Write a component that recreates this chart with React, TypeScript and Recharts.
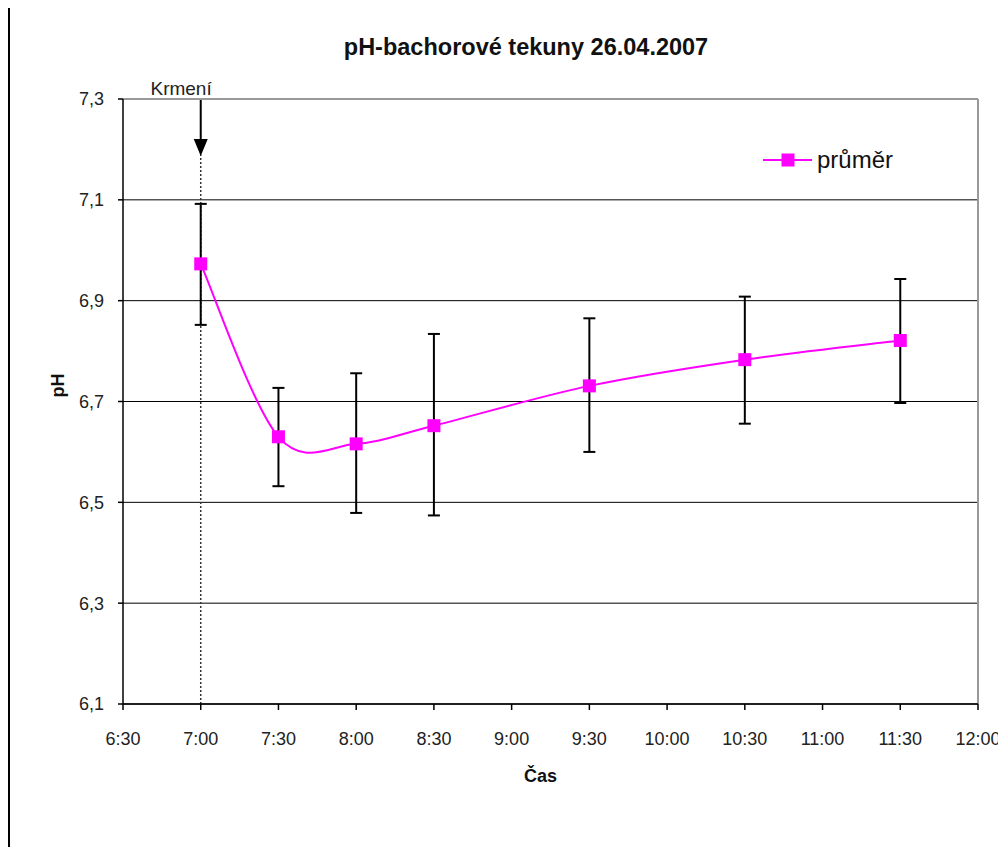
import React from 'react';
import {
  LineChart,
  Line,
  XAxis,
  YAxis,
  CartesianGrid,
  ErrorBar,
  ReferenceLine,
  ReferenceDot,
} from 'recharts';

// ---- data ----
const times = [7, 7.5, 8, 8.5, 9.5, 10.5, 11.5];
const meanPH = [6.973, 6.63, 6.616, 6.652, 6.731, 6.783, 6.821];
const errMinus = [0.121, 0.098, 0.137, 0.178, 0.131, 0.127, 0.124];
const errPlus = [0.119, 0.097, 0.14, 0.182, 0.134, 0.125, 0.122];

const xTicks = [6.5, 7, 7.5, 8, 8.5, 9, 9.5, 10, 10.5, 11, 11.5, 12];
const xTickLabels = ['6:30', '7:00', '7:30', '8:00', '8:30', '9:00', '9:30', '10:00', '10:30', '11:00', '11:30', '12:00'];
const yTicks = [6.1, 6.3, 6.5, 6.7, 6.9, 7.1, 7.3];
const yTickLabels = ['6,1', '6,3', '6,5', '6,7', '6,9', '7,1', '7,3'];

const feedingTime = 7;
const feedingLabel = 'Krmení';
const seriesName = 'průměr';
const title = 'pH-bachorové tekuny 26.04.2007';

const data = times.map((t, i) => ({
  t,
  ph: meanPH[i],
  err: [errMinus[i], errPlus[i]],
}));

const FONT = '"Liberation Sans", Arial, sans-serif';
const MAGENTA = '#FF00FF';

// Catmull-Rom style smoothing similar to Excel smoothed lines
const smoothCurve: any = (context: any) => {
  let pts: number[][] = [];
  return {
    areaStart() {},
    areaEnd() {},
    lineStart() {
      pts = [];
    },
    point(x: number, y: number) {
      pts.push([+x, +y]);
    },
    lineEnd() {
      if (!pts.length) return;
      context.moveTo(pts[0][0], pts[0][1]);
      for (let i = 0; i < pts.length - 1; i++) {
        const p0 = pts[i - 1] || pts[i];
        const p1 = pts[i];
        const p2 = pts[i + 1];
        const p3 = pts[i + 2] || p2;
        const c1x = p1[0] + (p2[0] - p0[0]) / 6;
        const c1y = p1[1] + (p2[1] - p0[1]) / 6;
        const c2x = p2[0] - (p3[0] - p1[0]) / 6;
        const c2y = p2[1] - (p3[1] - p1[1]) / 6;
        context.bezierCurveTo(c1x, c1y, c2x, c2y, p2[0], p2[1]);
      }
    },
  };
};

const SquareDot = (props: any) => {
  const { cx, cy, index } = props;
  if (cx == null || cy == null) return null;
  return <rect key={`d${index}`} x={cx - 6.5} y={cy - 6.5} width={13} height={13} fill={MAGENTA} />;
};

const FeedingArrow = (props: any) => {
  const { cx, cy } = props;
  if (cx == null || cy == null) return null;
  return (
    <g>
      <line x1={cx} y1={cy + 1} x2={cx} y2={cy + 42} stroke="#000" strokeWidth={2} />
      <polygon points={`${cx - 7},${cy + 40} ${cx + 7},${cy + 40} ${cx},${cy + 57}`} fill="#000" />
      <text x={cx + 11} y={cy - 4} textAnchor="end" fontFamily={FONT} fontSize={19} fill="#222">
        {feedingLabel}
      </text>
    </g>
  );
};

const YLabel = (props: any) => {
  const vb = props.viewBox || { x: 0, y: 0, width: 0, height: 0 };
  const x = vb.x + 64;
  const y = vb.y + vb.height / 2 - 16;
  return (
    <text x={x} y={y} transform={`rotate(-90 ${x} ${y})`} textAnchor="middle" fontFamily={FONT} fontSize={18} fontWeight="bold" fill="#111">
      pH
    </text>
  );
};

export default function App() {
  return (
    <div style={{ position: 'relative', width: 1006, height: 839, marginLeft: -8, marginTop: -8 }}>
      <div style={{ position: 'absolute', left: 0, top: 0 }}>
        <LineChart width={1006} height={839} data={data} margin={{ top: 99, right: 28, bottom: 0, left: 0 }}>
          <CartesianGrid vertical={false} stroke="#000" strokeWidth={1} />
          <XAxis
            dataKey="t"
            type="number"
            domain={[6.5, 12]}
            ticks={xTicks}
            tickFormatter={(v: number) => xTickLabels[xTicks.indexOf(v)] ?? ''}
            height={135}
            interval={0}
            stroke="#000"
            strokeWidth={1.5}
            tickSize={6}
            tickMargin={22}
            tick={{ fontFamily: FONT, fontSize: 18, fill: '#222' }}
            allowDataOverflow
            label={{ value: 'Čas', position: 'insideBottom', offset: 57, dx: -10, fontFamily: FONT, fontSize: 18, fontWeight: 'bold', fill: '#111' }}
          />
          <YAxis
            type="number"
            domain={[6.1, 7.3]}
            ticks={yTicks}
            tickFormatter={(v: number) => yTickLabels[yTicks.findIndex((t) => Math.abs(t - v) < 1e-9)] ?? ''}
            width={123}
            interval={0}
            stroke="#000"
            strokeWidth={1.5}
            tickSize={5}
            tickMargin={14}
            tick={{ fontFamily: FONT, fontSize: 18, fill: '#222' }}
            allowDataOverflow
            label={{ content: YLabel }}
          />
          <ReferenceLine y={7.3} stroke="#999" strokeWidth={2} />
          <ReferenceLine x={12} stroke="#999" strokeWidth={2} />
          <ReferenceLine
            segment={[
              { x: feedingTime, y: 6.1 },
              { x: feedingTime, y: 7.19 },
            ]}
            stroke="#333"
            strokeWidth={1.5}
            strokeDasharray="2 2"
          />
          <ReferenceDot x={feedingTime} y={7.3} ifOverflow="visible" shape={FeedingArrow} />
          <Line
            dataKey="ph"
            name={seriesName}
            type={smoothCurve}
            stroke={MAGENTA}
            strokeWidth={2}
            dot={SquareDot}
            activeDot={false}
            isAnimationActive={false}
          >
            <ErrorBar dataKey="err" direction="y" width={6} stroke="#000" strokeWidth={2} isAnimationActive={false} />
          </Line>
        </LineChart>
      </div>
      <svg width={1006} height={200} style={{ position: 'absolute', left: 0, top: 0, pointerEvents: 'none' }}>
        <text x={526} y={55} textAnchor="middle" fontFamily={FONT} fontSize={23.5} fontWeight="bold" fill="#111">
          {title}
        </text>
        <line x1={763} y1={160} x2={812} y2={160} stroke={MAGENTA} strokeWidth={2} />
        <rect x={781.5} y={153.5} width={13} height={13} fill={MAGENTA} />
        <text x={817} y={168} fontFamily={FONT} fontSize={24} fill="#111">
          {seriesName}
        </text>
      </svg>
      <div style={{ position: 'fixed', left: 8, top: 8, width: 2, bottom: 0, background: '#000' }} />
    </div>
  );
}
